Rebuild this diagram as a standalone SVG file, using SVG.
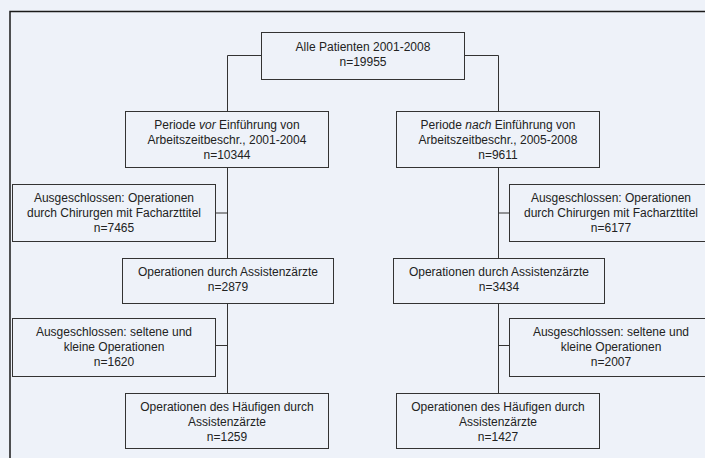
<svg xmlns="http://www.w3.org/2000/svg" width="705" height="458" viewBox="0 0 705 458">
<style>
.bg{fill:#eef2f9}
.frame{fill:none;stroke:#1a1a1a;stroke-width:1.5}
.box{fill:#eef2f9;stroke:#333;stroke-width:1}
.c{fill:none;stroke:#333;stroke-width:1}
text{font-family:"Liberation Sans",Arial,Helvetica,sans-serif;font-size:12px;fill:#222;text-anchor:middle}
</style>
<rect class="bg" x="0" y="0" width="705" height="458"/>
<rect class="frame" x="10" y="11.5" width="720" height="470"/>
<g id="connectors">
<path class="c" d="M261 55.5H227.5V111.5"/>
<path class="c" d="M464 55.5H498.5V111.5"/>
<path class="c" d="M227.5 168V258.5"/>
<path class="c" d="M216 213H227.5"/>
<path class="c" d="M227.5 303.5V393.5"/>
<path class="c" d="M216 345.5H227.5"/>
<path class="c" d="M498.5 168V258.5"/>
<path class="c" d="M498.5 213H509.5"/>
<path class="c" d="M498.5 303.5V393.5"/>
<path class="c" d="M498.5 345.5H509.5"/>
</g>
<g id="n_all">
<rect class="box" x="261.5" y="32.5" width="203" height="47"/>
<text x="363" y="51">Alle Patienten 2001-2008</text>
<text x="363" y="66">n=19955</text>
</g>
<g id="n_vor">
<rect class="box" x="125.5" y="111.5" width="203" height="56"/>
<text x="227" y="129">Periode <tspan font-style="italic">vor</tspan> Einführung von</text>
<text x="227" y="144">Arbeitszeitbeschr., 2001-2004</text>
<text x="227" y="159">n=10344</text>
</g>
<g id="n_nach">
<rect class="box" x="396.5" y="111.5" width="203" height="56"/>
<text x="498" y="129">Periode <tspan font-style="italic">nach</tspan> Einführung von</text>
<text x="498" y="144">Arbeitszeitbeschr., 2005-2008</text>
<text x="498" y="159">n=9611</text>
</g>
<g id="n_ex1_l">
<rect class="box" x="12.5" y="184.5" width="203" height="57"/>
<text x="114" y="202">Ausgeschlossen: Operationen</text>
<text x="114" y="217">durch Chirurgen mit Facharzttitel</text>
<text x="114" y="232">n=7465</text>
</g>
<g id="n_ex1_r">
<rect class="box" x="509.5" y="184.5" width="203" height="57"/>
<text x="611" y="202">Ausgeschlossen: Operationen</text>
<text x="611" y="217">durch Chirurgen mit Facharzttitel</text>
<text x="611" y="232">n=6177</text>
</g>
<g id="n_ass_l">
<rect class="box" x="122.5" y="258.5" width="211" height="45"/>
<text x="228" y="276">Operationen durch Assistenzärzte</text>
<text x="228" y="291">n=2879</text>
</g>
<g id="n_ass_r">
<rect class="box" x="393.5" y="258.5" width="211" height="45"/>
<text x="499" y="276">Operationen durch Assistenzärzte</text>
<text x="499" y="291">n=3434</text>
</g>
<g id="n_ex2_l">
<rect class="box" x="12.5" y="318.5" width="203" height="58"/>
<text x="114" y="336">Ausgeschlossen: seltene und</text>
<text x="114" y="351">kleine Operationen</text>
<text x="114" y="366">n=1620</text>
</g>
<g id="n_ex2_r">
<rect class="box" x="509.5" y="318.5" width="203" height="58"/>
<text x="611" y="336">Ausgeschlossen: seltene und</text>
<text x="611" y="351">kleine Operationen</text>
<text x="611" y="366">n=2007</text>
</g>
<g id="n_final_l">
<rect class="box" x="125.5" y="393.5" width="203" height="55"/>
<text x="227" y="411">Operationen des Häufigen durch</text>
<text x="227" y="426">Assistenzärzte</text>
<text x="227" y="441">n=1259</text>
</g>
<g id="n_final_r">
<rect class="box" x="396.5" y="393.5" width="203" height="55"/>
<text x="498" y="411">Operationen des Häufigen durch</text>
<text x="498" y="426">Assistenzärzte</text>
<text x="498" y="441">n=1427</text>
</g>
</svg>
